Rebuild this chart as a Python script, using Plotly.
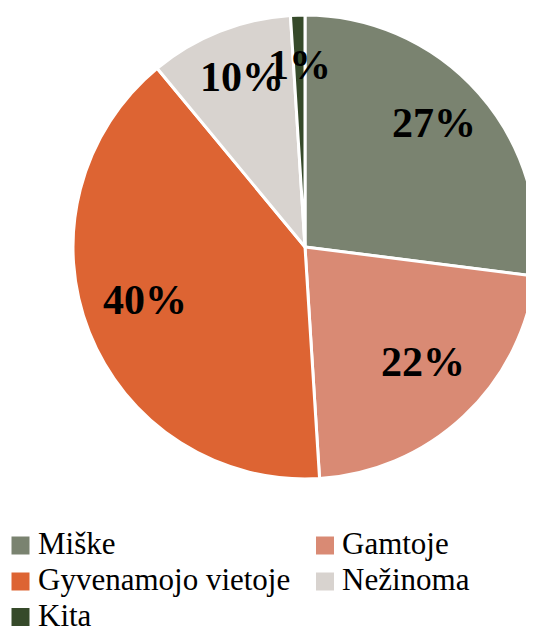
import math
import plotly.graph_objects as go

categories = ["Miške", "Gamtoje", "Gyvenamojo vietoje", "Nežinoma", "Kita"]
values = [27, 22, 40, 10, 1]
colors = ["#7a8370", "#d98a74", "#dd6433", "#d8d3cf", "#364a2a"]

W, H = 534, 628
SERIF = "Liberation Serif"
OFF = 8  # page body margin offset
# pie geometry (pixels, in figure coordinates)
cx, cy, r = 305 - OFF, 247 - OFF, 232
dom_x = [max(0, (cx - r) / W), min(1, (cx + r) / W)]
dom_y = [(H - (cy + r)) / H, (H - (cy - r)) / H]

fig = go.Figure()
fig.add_trace(go.Pie(
    labels=categories,
    values=values,
    marker=dict(colors=colors, line=dict(color="white", width=3)),
    sort=False,
    direction="clockwise",
    rotation=0,
    textinfo="none",
    hoverinfo="label+percent",
    domain=dict(x=dom_x, y=dom_y),
    showlegend=False,
))

# percent labels placed along each slice's bisector
total = sum(values)
cum = 0
frac = 0.74
for v in values:
    mid = (cum + v / 2) / total * 2 * math.pi
    cum += v
    px = cx + frac * r * math.sin(mid)
    py = cy - frac * r * math.cos(mid)
    fig.add_annotation(
        x=px / W, y=1 - py / H, xref="paper", yref="paper",
        text=f"{round(v / total * 100)}%", showarrow=False,
        font=dict(family=SERIF, size=42, color="black", weight="bold"),
        xanchor="center", yanchor="middle", yshift=10,
    )

# legend: two columns, three rows
col_x = [11.5 - OFF, 316 - OFF]
row_y = [545.5 - OFF, 581.5 - OFF, 617 - OFF]
sq = 18
for i, (name, col) in enumerate(zip(categories, colors)):
    lx = col_x[i % 2]
    ly = row_y[i // 2]
    fig.add_shape(
        type="rect", xref="paper", yref="paper",
        x0=lx / W, x1=(lx + sq) / W,
        y0=1 - (ly - sq / 2) / H, y1=1 - (ly + sq / 2) / H,
        fillcolor=col, line=dict(width=0),
    )
    fig.add_annotation(
        x=(lx + sq + 6) / W, y=1 - (ly - 2) / H, xref="paper", yref="paper",
        text=name, showarrow=False,
        font=dict(family=SERIF, size=31, color="black"),
        xanchor="left", yanchor="middle",
    )

fig.update_layout(
    width=W, height=H,
    margin=dict(l=0, r=0, t=0, b=0),
    paper_bgcolor="white",
    plot_bgcolor="white",
    font=dict(family=SERIF),
    showlegend=False,
)

fig.write_html("out.html")
